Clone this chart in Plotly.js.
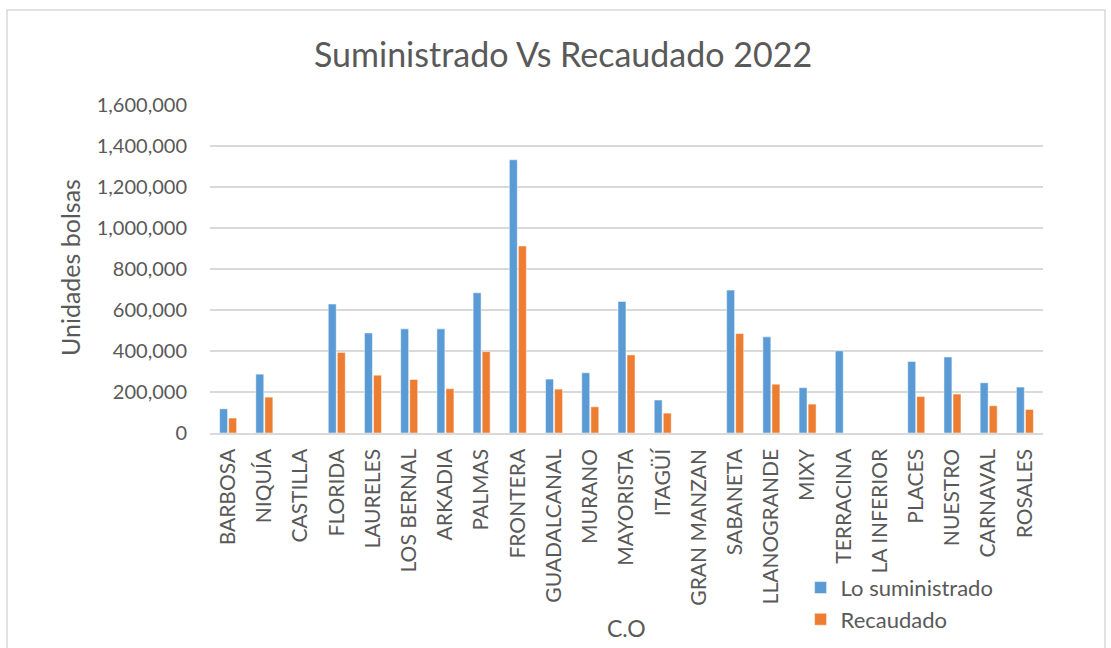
<!DOCTYPE html>
<html><head><meta charset="utf-8">
<script src="https://cdn.plot.ly/plotly-3.0.1.min.js"></script>
<style>html,body{margin:0;padding:0;background:#fff}#chart{width:1111px;height:648px}</style>
</head><body><div id="chart"></div>
<script>
const categories = ["BARBOSA","NIQUÍA","CASTILLA","FLORIDA","LAURELES","LOS BERNAL","ARKADIA","PALMAS","FRONTERA","GUADALCANAL","MURANO","MAYORISTA","ITAGÜÍ","GRAN MANZAN","SABANETA","LLANOGRANDE","MIXY","TERRACINA","LA INFERIOR","PLACES","NUESTRO","CARNAVAL","ROSALES"];
const suministrado = [118000,287000,0,629000,488000,508000,508000,684000,1333000,263000,294000,642000,161000,0,697000,469000,221000,401000,0,349000,371000,245000,224000];
const recaudado = [73000,175000,0,393000,282000,261000,216000,397000,912000,214000,128000,381000,97000,0,485000,238000,141000,0,0,178000,190000,133000,115000];
const tickVals = [0,200000,400000,600000,800000,1000000,1200000,1400000,1600000];
const tickText = ["0","200,000","400,000","600,000","800,000","1,000,000","1,200,000","1,400,000","1,600,000"];

const F = "Lato, 'Open Sans', sans-serif";
const C = "#595959";
const data = [
  {type:"bar", name:"Lo suministrado", x:categories, y:suministrado, marker:{color:"#5b9bd5", line:{color:"#ffffff", width:0.5}}},
  {type:"bar", name:"Recaudado", x:categories, y:recaudado, marker:{color:"#ed7d31", line:{color:"#ffffff", width:0.5}}}
];
const layout = {
  width:1111, height:648,
  margin:{l:210, r:68, t:105, b:215, autoexpand:false},
  paper_bgcolor:"#ffffff", plot_bgcolor:"#ffffff",
  font:{family:F, color:C},
  title:{text:"Suministrado Vs Recaudado 2022", font:{size:34, color:C, family:F}, x:0.5068, xanchor:"center", y:0.915, yanchor:"middle"},
  barmode:"group", bargap:0.5, bargroupgap:0.12,
  xaxis:{type:"category", tickmode:"linear", tick0:0, dtick:1, tickangle:-90, tickfont:{size:21, color:C}, showgrid:false, zeroline:false, automargin:false,
    showline:true, linecolor:"#d9d9d9", linewidth:1.5, ticks:"", ticklabelstandoff:6},
  yaxis:{range:[0,1600000], tickvals:tickVals, ticktext:tickText, tickfont:{size:20, color:C}, automargin:false,
    gridcolor:"#d9d9d9", gridwidth:1.5, zeroline:false, showline:false, ticks:"", ticklabelstandoff:22},
  annotations:[
    {text:"C.O", xref:"paper", yref:"paper", x:0.4994, y:-0.5945, xanchor:"center", yanchor:"middle", showarrow:false, font:{size:23, color:C}},
    {text:"Unidades bolsas", xref:"paper", yref:"paper", x:-0.168, y:0.503, xanchor:"center", yanchor:"middle", textangle:-90, showarrow:false, font:{size:25, color:C}}
  ],
  legend:{x:0.709, y:-0.408, xanchor:"left", yanchor:"top", font:{size:22, color:C}, bgcolor:"rgba(0,0,0,0)", itemwidth:30},
  shapes:[{type:"rect", xref:"paper", yref:"paper", x0:-0.2437, x1:1.0744, y0:-0.66, y1:1.2896, line:{color:"#d9d9d9", width:1.5}, fillcolor:"rgba(0,0,0,0)"}]
};
Plotly.newPlot("chart", data, layout, {displayModeBar:false, staticPlot:true});
</script></body></html>
